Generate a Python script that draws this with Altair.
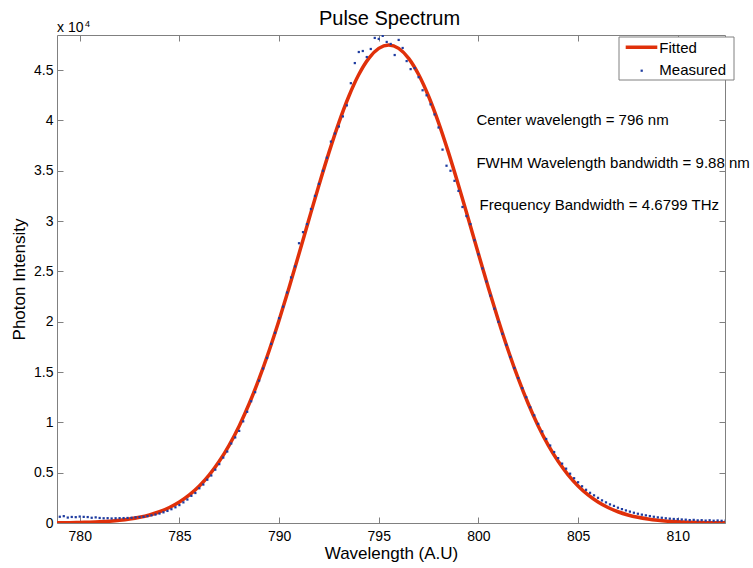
import altair as alt
import pandas as pd

# ---------------- data ----------------
fit_wl = [778.5, 779.0, 779.5, 780.0, 780.5, 781.0, 781.5, 782.0, 782.5, 783.0,
          783.5, 784.0, 784.5, 785.0, 785.5, 786.0, 786.5, 787.0, 787.5, 788.0,
          788.5, 789.0, 789.5, 790.0, 790.5, 791.0, 791.5, 792.0, 792.5, 793.0,
          793.5, 794.0, 794.5, 795.0, 795.5, 796.0, 796.5, 797.0, 797.5, 798.0,
          798.5, 799.0, 799.5, 800.0, 800.5, 801.0, 801.5, 802.0, 802.5, 803.0,
          803.5, 804.0, 804.5, 805.0, 805.5, 806.0, 806.5, 807.0, 807.5, 808.0,
          808.5, 809.0, 809.5, 810.0, 810.5, 811.0, 811.5, 812.0, 812.5]
fit_int = [13, 21, 33, 52, 81, 123, 184, 271, 395, 567,
           801, 1118, 1539, 2087, 2790, 3678, 4781, 6128, 7742, 9644,
           11844, 14341, 17121, 20151, 23385, 26756, 30182, 33566, 36803, 39789,
           42408, 44565, 46173, 47165, 47500, 47165, 46173, 44565, 42408, 39789,
           36803, 33566, 30182, 26756, 23385, 20151, 17121, 14341, 11844, 9644,
           7742, 6128, 4781, 3678, 2790, 2087, 1539, 1118, 801, 567,
           395, 271, 184, 123, 81, 52, 33, 21, 13]

meas_wl = [779.0, 779.2, 779.4, 779.6, 779.8, 780.0, 780.2, 780.4, 780.6, 780.8,
           781.0, 781.2, 781.4, 781.6, 781.8, 782.0, 782.2, 782.4, 782.6, 782.8,
           783.0, 783.2, 783.4, 783.6, 783.8, 784.0, 784.2, 784.4, 784.6, 784.8,
           785.0, 785.2, 785.4, 785.6, 785.8, 786.0, 786.2, 786.4, 786.6, 786.8,
           787.0, 787.2, 787.4, 787.6, 787.8, 788.0, 788.2, 788.4, 788.6, 788.8,
           789.0, 789.2, 789.4, 789.6, 789.8, 790.0, 790.2, 790.4, 790.6, 790.8,
           791.0, 791.2, 791.4, 791.6, 791.8, 792.0, 792.2, 792.4, 792.6, 792.8,
           793.0, 793.2, 793.4, 793.6, 793.8, 794.0, 794.2, 794.4, 794.6, 794.8,
           795.0, 795.2, 795.4, 795.6, 795.8, 796.0, 796.2, 796.4, 796.6, 796.8,
           797.0, 797.2, 797.4, 797.6, 797.8, 798.0, 798.2, 798.4, 798.6, 798.8,
           799.0, 799.2, 799.4, 799.6, 799.8, 800.0, 800.2, 800.4, 800.6, 800.8,
           801.0, 801.2, 801.4, 801.6, 801.8, 802.0, 802.2, 802.4, 802.6, 802.8,
           803.0, 803.2, 803.4, 803.6, 803.8, 804.0, 804.2, 804.4, 804.6, 804.8,
           805.0, 805.2, 805.4, 805.6, 805.8, 806.0, 806.2, 806.4, 806.6, 806.8,
           807.0, 807.2, 807.4, 807.6, 807.8, 808.0, 808.2, 808.4, 808.6, 808.8,
           809.0, 809.2, 809.4, 809.6, 809.8, 810.0, 810.2, 810.4, 810.6, 810.8,
           811.0, 811.2, 811.4, 811.6, 811.8, 812.0, 812.2, 812.4]
meas_int = [620, 680, 540, 600, 580, 640, 610, 590, 520, 560,
            500, 470, 480, 450, 470, 480, 490, 500, 520, 560,
            590, 620, 680, 760, 840, 940, 1060, 1200, 1370, 1560,
            1780, 2050, 2330, 2700, 2980, 3450, 3820, 4300, 4720, 5300,
            5850, 6500, 7100, 7900, 8500, 9150, 10100, 11050, 12100, 13000,
            14150, 15350, 16400, 17800, 18900, 20350, 21500, 22900, 24400, 25500,
            27800, 28900, 29700, 31200, 32500, 33700, 35000, 36300, 37900, 38700,
            39400, 40400, 41500, 43700, 45700, 46800, 46900, 46300, 47100, 48200,
            48100, 48400, 47800, 47600, 46500, 48000, 47200, 45900, 45100, 45200,
            44300, 43000, 42500, 41600, 40600, 39300, 37100, 35500, 35000, 34000,
            33000, 31400, 30500, 29700, 28100, 26700, 25300, 24000, 22600, 21300,
            20000, 18800, 17700, 16500, 15400, 14400, 13400, 12500, 11500, 10700,
            9850, 9100, 8350, 7700, 7050, 6450, 5900, 5400, 4900, 4450,
            4050, 3650, 3300, 3000, 2750, 2500, 2250, 2050, 1850, 1700,
            1520, 1380, 1250, 1130, 1020, 920, 830, 760, 690, 620,
            560, 520, 470, 430, 400, 380, 350, 330, 290, 310,
            260, 280, 240, 270, 230, 250, 220, 240]

x_ticks = [780, 785, 790, 795, 800, 805, 810]
y_ticks = [0, 5000, 10000, 15000, 20000, 25000, 30000, 35000, 40000, 45000]

ann_text = ["Center wavelength = 796 nm",
            "FWHM Wavelength bandwidth = 9.88 nm",
            "Frequency Bandwidth = 4.6799 THz"]
ann_wl = [799.9, 799.9, 800.06]
ann_int = [40000, 35800, 31550]

legend_labels = ["Fitted", "Measured"]
title_text = "Pulse Spectrum"

# ---------------- style ----------------
W, H = 668, 488
FONT = "Liberation Sans"
FIT_COLOR = "#E0300A"
MEAS_COLOR = "#1E3CA0"
GRAY = "#808080"

xs = alt.Scale(domain=[778.86, 812.37], nice=False, zero=False)
ys = alt.Scale(domain=[0, 48490], nice=False, zero=False)

fit_df = pd.DataFrame({"wl": fit_wl, "val": fit_int})
meas_df = pd.DataFrame({"wl": meas_wl, "val": meas_int})
ann_df = pd.DataFrame({"wl": ann_wl, "val": ann_int, "text": ann_text})
one = pd.DataFrame({"k": [0]})

ylab = "datum.value == 0 ? '0' : format(datum.value / 10000, '.1~f')"

# main axes: labels + bottom/left frame lines
x_main = alt.Axis(orient="bottom", values=x_ticks, ticks=False, labelPadding=6,
                  labelFontSize=14, title="Wavelength (A.U)", titleFontSize=17,
                  titleFontWeight="normal", titlePadding=2, domainColor=GRAY,
                  grid=False, labelColor="black", titleColor="black", format="d")
y_main = alt.Axis(orient="left", values=y_ticks, ticks=False, labelPadding=4,
                  labelFontSize=14, labelExpr=ylab, title="Photon Intensity",
                  titleFontSize=17, titleFontWeight="normal", titlePadding=5,
                  domainColor=GRAY, grid=False, labelColor="black", titleColor="black")
# inward ticks on bottom / left edges
x_in_bottom = alt.Axis(orient="top", offset=-H, values=x_ticks, labels=False,
                       domain=False, ticks=True, tickSize=6, tickColor=GRAY,
                       title="", grid=False)
y_in_left = alt.Axis(orient="right", offset=-W, values=y_ticks, labels=False,
                     domain=False, ticks=True, tickSize=6, tickColor=GRAY,
                     title="", grid=False)
# top / right frame lines with inward ticks
x_in_top = alt.Axis(orient="bottom", offset=-H, values=x_ticks, labels=False,
                    domain=True, domainColor=GRAY, ticks=True, tickSize=6,
                    tickColor=GRAY, title="", grid=False)
y_in_right = alt.Axis(orient="left", offset=-W, values=y_ticks, labels=False,
                      domain=True, domainColor=GRAY, ticks=True, tickSize=6,
                      tickColor=GRAY, title="", grid=False)

fitted = alt.Chart(fit_df).mark_line(
    color=FIT_COLOR, strokeWidth=3.5, interpolate="monotone", clip=True
).encode(
    x=alt.X("wl:Q", scale=xs, axis=x_main),
    y=alt.Y("val:Q", scale=ys, axis=y_main),
)

measured = alt.Chart(meas_df).mark_square(
    size=5, color=MEAS_COLOR, opacity=1, clip=True
).encode(
    x=alt.X("wl:Q", scale=xs, axis=x_in_bottom),
    y=alt.Y("val:Q", scale=ys, axis=y_in_left),
)

annotations = alt.Chart(ann_df).mark_text(
    align="left", baseline="middle", fontSize=15, font=FONT, color="black"
).encode(
    x=alt.X("wl:Q", scale=xs, axis=x_in_top),
    y=alt.Y("val:Q", scale=ys, axis=y_in_right),
    text="text:N",
)

legend_box = alt.Chart(one).mark_rect(fill="white", stroke=GRAY, strokeWidth=1).encode(
    x=alt.value(562), x2=alt.value(677), y=alt.value(2), y2=alt.value(45)
)
legend_line = alt.Chart(one).mark_rule(color=FIT_COLOR, strokeWidth=3.5).encode(
    x=alt.value(568.7), x2=alt.value(600.3), y=alt.value(12.3)
)
legend_dot = alt.Chart(one).mark_square(size=5, color=MEAS_COLOR, opacity=1).encode(
    x=alt.value(584.7), y=alt.value(35.7)
)
legend_t1 = alt.Chart(one).mark_text(
    align="left", baseline="middle", fontSize=15, font=FONT, color="black"
).encode(x=alt.value(602.3), y=alt.value(12.5), text=alt.value(legend_labels[0]))
legend_t2 = alt.Chart(one).mark_text(
    align="left", baseline="middle", fontSize=15, font=FONT, color="black"
).encode(x=alt.value(602.3), y=alt.value(34.5), text=alt.value(legend_labels[1]))

exp_base = alt.Chart(one).mark_text(
    align="left", baseline="alphabetic", fontSize=14, font=FONT, color="black"
).encode(x=alt.value(0), y=alt.value(-3), text=alt.value("x 10"))
exp_pow = alt.Chart(one).mark_text(
    align="left", baseline="alphabetic", fontSize=9, font=FONT, color="black"
).encode(x=alt.value(28), y=alt.value(-8), text=alt.value("4"))

title_mark = alt.Chart(one).mark_text(
    align="center", baseline="alphabetic", fontSize=20, font=FONT, color="black"
).encode(x=alt.value(332.5), y=alt.value(-10), text=alt.value(title_text))

chart = alt.layer(
    fitted, measured, annotations,
    legend_box, legend_line, legend_dot, legend_t1, legend_t2,
    exp_base, exp_pow, title_mark,
).resolve_axis(
    x="independent", y="independent"
).properties(
    width=W, height=H,
    padding={"left": 57, "top": 35, "right": 28, "bottom": 45},
    autosize="none",
    background="white",
).configure_view(
    stroke=None
).configure_axis(
    labelFont=FONT, titleFont=FONT
)

chart.save("out.html", embed_options={"renderer": "svg", "actions": False})
